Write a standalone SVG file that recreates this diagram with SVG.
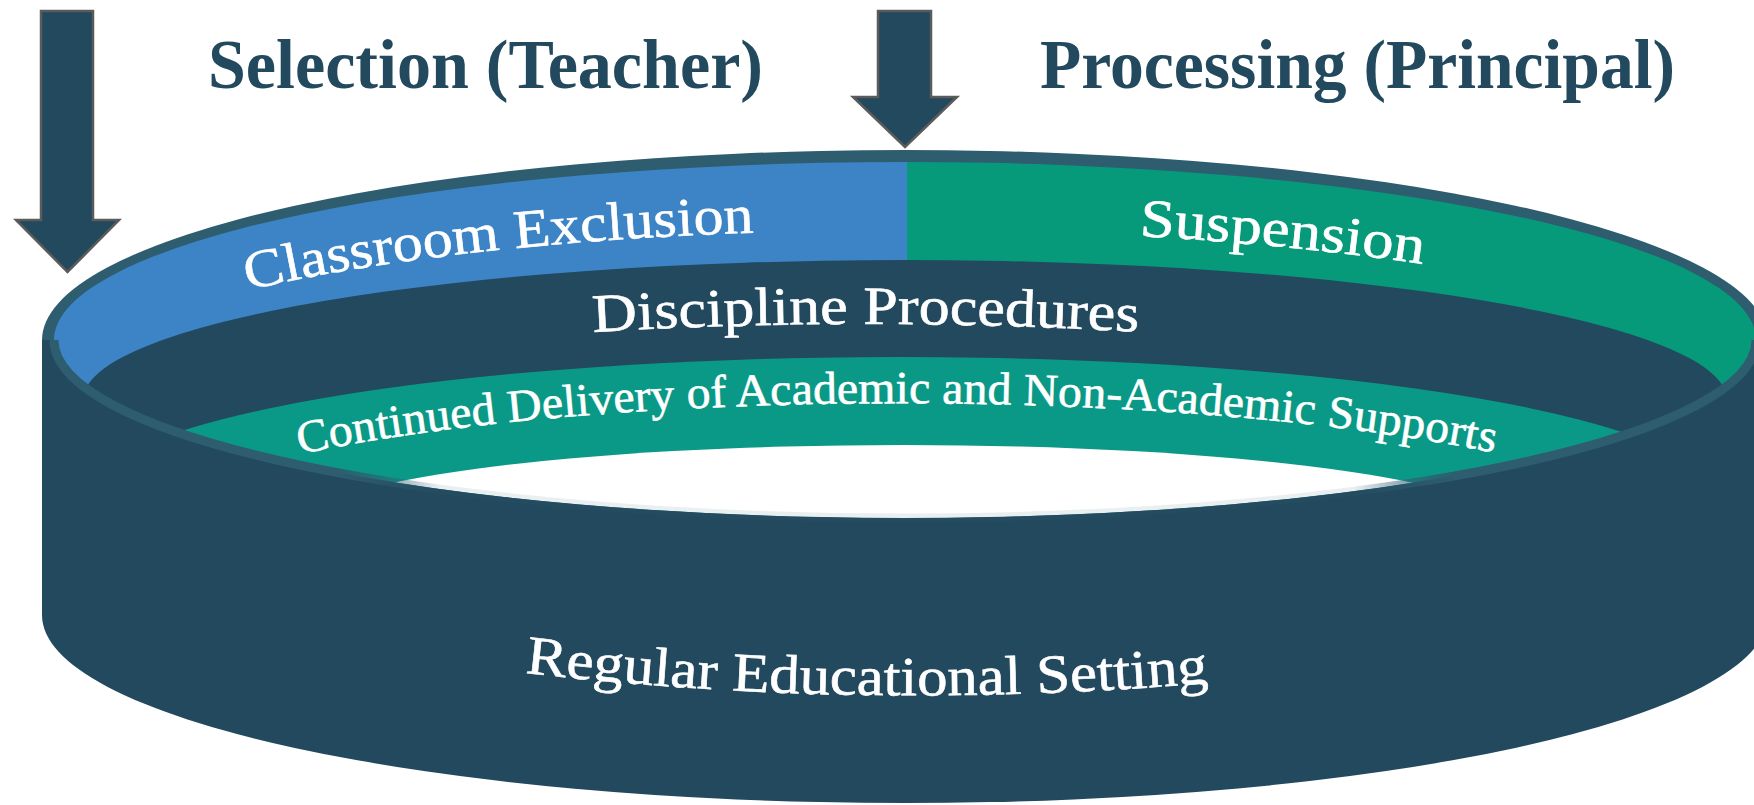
<svg xmlns="http://www.w3.org/2000/svg" width="1754" height="805" viewBox="0 0 1754 805">
<defs>
<style>
.lbl{font-family:"Palatino Linotype","Book Antiqua",Palatino,"Liberation Serif",serif;fill:#ffffff;stroke:#ffffff;stroke-width:0.6}
.title{font-family:"Palatino Linotype","Book Antiqua",Palatino,"Liberation Serif",serif;font-weight:bold;fill:#23495e;font-size:70px}
.arrow{fill:#23495e;stroke:#5b5b5b;stroke-width:2.5;stroke-linejoin:miter}
.navy{fill:#23495e}
</style>
<clipPath id="inner"><ellipse cx="905" cy="340" rx="851" ry="178"/></clipPath>
<linearGradient id="rimfade" gradientUnits="userSpaceOnUse" x1="42" y1="0" x2="1768" y2="0">
<stop offset="0" stop-color="#2e5d70"/>
<stop offset="0.17" stop-color="#2e5d70"/>
<stop offset="0.23" stop-color="#2e5d70" stop-opacity="0.1"/>
<stop offset="0.76" stop-color="#2e5d70" stop-opacity="0.1"/>
<stop offset="0.82" stop-color="#2e5d70"/>
<stop offset="1" stop-color="#2e5d70"/>
</linearGradient>
<path id="p1" d="M248,290 A850,165 0 0 1 905,230"/>
<path id="p2" d="M1139,236 A850,165 0 0 1 1423,264"/>
<path id="p3" d="M593,332 Q866,316 1139,332"/>
<path id="p4" d="M300,454 A800,150 0 0 1 1495,453"/>
<path id="p5" d="M525,673 Q866,712 1208,683"/>
</defs>

<g id="ring">
<ellipse cx="905" cy="340" rx="863" ry="190" fill="#2e5d70"/>
<g clip-path="url(#inner)">
<rect x="40" y="150" width="867" height="420" fill="#3c84c6"/>
<rect x="907" y="150" width="870" height="420" fill="#069a7b"/>
<path d="M83,400 A822,140 0 0 1 1727,400 L1800,400 L1800,700 L0,700 L0,400 Z" class="navy"/>
<path d="M85,497 A815,140 0 0 1 1715,497 L1715,700 L85,700 Z" fill="#0b9987"/>
<path d="M303,525 A600,80 0 0 1 1503,525 L1503,700 L303,700 Z" fill="#ffffff"/>
</g>
<path id="body" d="M42,340 L42,615 A863,188 0 0 0 1768,615 L1768,340 L1756,340 A851,178 0 0 1 54,340 Z" class="navy"/>
<path d="M54,340 A851,178 0 0 0 1756,340" fill="none" stroke="url(#rimfade)" stroke-width="9"/>
</g>

<g id="node-classroom-exclusion">
<text class="lbl" font-size="54"><textPath href="#p1" textLength="510" lengthAdjust="spacingAndGlyphs">Classroom Exclusion</textPath></text>
</g>
<g id="node-suspension">
<text class="lbl" font-size="54"><textPath href="#p2" textLength="285" lengthAdjust="spacingAndGlyphs">Suspension</textPath></text>
</g>
<g id="node-discipline">
<text class="lbl" font-size="54"><textPath href="#p3" textLength="546" lengthAdjust="spacingAndGlyphs">Discipline Procedures</textPath></text>
</g>
<g id="node-continued">
<text class="lbl" font-size="46"><textPath href="#p4" textLength="1200" lengthAdjust="spacingAndGlyphs">Continued Delivery of Academic and Non-Academic Supports</textPath></text>
</g>
<g id="node-regular">
<text class="lbl" font-size="55"><textPath href="#p5" textLength="685" lengthAdjust="spacingAndGlyphs">Regular Educational Setting</textPath></text>
</g>

<g id="node-selection">
<text class="title" x="208" y="88" textLength="555" lengthAdjust="spacingAndGlyphs">Selection (Teacher)</text>
</g>
<g id="node-processing">
<text class="title" x="1040" y="88" textLength="635" lengthAdjust="spacingAndGlyphs">Processing (Principal)</text>
</g>

<g id="connectors">
<polygon class="arrow" points="41,11 93,11 93,220 119,220 67.5,272 16,220 41,220"/>
<polygon class="arrow" points="878,11 931,11 931,97 957,97 905,147 853,97 878,97"/>
</g>
</svg>
